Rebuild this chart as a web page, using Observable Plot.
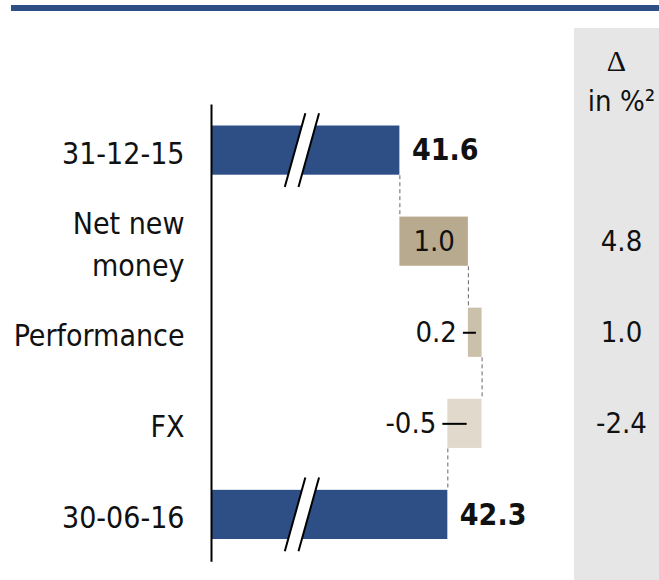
<!DOCTYPE html>
<html>
<head>
<meta charset="utf-8">
<script src="https://cdn.jsdelivr.net/npm/d3@7"></script>
<script src="https://cdn.jsdelivr.net/npm/@observablehq/plot@0.6"></script>
<style>
  html, body { margin: 0; padding: 0; background: white; }
  #wrap { position: relative; width: 659px; height: 580px; overflow: hidden; font-family: "DejaVu Sans Condensed", "DejaVu Sans", sans-serif; }
  #rule { position: absolute; left: 11px; top: 5px; width: 648px; height: 6px; background: #2d4f86; }
  #panel { position: absolute; left: 574px; top: 28px; width: 85px; height: 552px; background: #e6e6e6; }
  #hdr1 { position: absolute; left: 574px; width: 85px; top: 44px; text-align: center; font-family: "Liberation Serif", serif; font-size: 30px; color: #111; box-sizing: border-box; padding-right: 0px; }
  #hdr2 { position: absolute; left: 574px; width: 85px; top: 84px; text-align: center; font-size: 29px; color: #111; padding-left: 10px; box-sizing: border-box; white-space: nowrap; }
  #chart { position: absolute; left: 0; top: 0; }
</style>
</head>
<body>
<div id="wrap">
  <div id="rule"></div>
  <div id="panel"></div>
  <div id="hdr1">Δ</div>
  <div id="hdr2">in %²</div>
  <div id="chart"></div>
</div>
<script>
// ---- data ----
const categories = ["31-12-15", "Net new\nmoney", "Performance", "FX", "30-06-16"];
const values = [41.6, 1.0, 0.2, -0.5, 42.3];
const kinds = ["total", "change", "change", "change", "total"];
const deltaPct = [null, 4.8, 1.0, -2.4, null];
const valueLabels = ["41.6", "1.0", "0.2", "-0.5", "42.3"];
const deltaLabels = ["", "4.8", "1.0", "-2.4", ""];
const labelPlacement = ["outside", "inside", "tick", "tick", "outside"];
const barColors = ["#2d4f86", "#b8aa8f", "#cbc0aa", "#e1d9cc", "#2d4f86"];

// axis (broken) range
const axisStart = 38.85;
const axisEnd = 45.39;
const breakAt = 40.07; // where the axis-break marks sit

// ---- derived waterfall table ----
let cum = 0;
const rows = categories.map((c, i) => {
  let start, end;
  if (kinds[i] === "total") { start = axisStart; end = values[i]; cum = values[i]; }
  else { start = cum; end = cum + values[i]; cum = end; }
  return {i, cat: c, v: values[i], start, end, lo: Math.min(start, end), hi: Math.max(start, end),
          cum, color: barColors[i], label: valueLabels[i], place: labelPlacement[i],
          delta: deltaLabels[i], kind: kinds[i]};
});
const half = 0.27;
const connectors = rows.slice(0, -1).map(r => ({x: r.cum, y1: r.i + half, y2: r.i + 1 - half}));
const totals = rows.filter(r => r.kind === "total");
const breaks = totals.flatMap(r => [
  {x1: breakAt - 0.15, x2: breakAt + 0.15, y1: r.i + 0.40, y2: r.i - 0.41},
  {x1: breakAt + 0.05, x2: breakAt + 0.35, y1: r.i + 0.40, y2: r.i - 0.41}
]);
const breakFill = totals.map(r => ({x1: breakAt - 0.05, x2: breakAt + 0.25, y1: r.i + 0.40, y2: r.i - 0.41}));
const tickRows = rows.filter(r => r.place === "tick");

const fontMain = "DejaVu Sans Condensed, DejaVu Sans, sans-serif";

const chart = Plot.plot({
  width: 659,
  height: 580,
  marginLeft: 211,
  marginRight: 0,
  marginTop: 0,
  marginBottom: 0,
  style: {background: "transparent", fontFamily: fontMain, color: "#111"},
  x: {domain: [axisStart, axisEnd], axis: null},
  y: {domain: [-1.648, 4.72], reverse: true, axis: null},
  marks: [
    Plot.rectX(rows, {x1: "start", x2: "end", y1: d => d.i - half, y2: d => d.i + half, fill: "color"}),
    Plot.link(connectors, {x1: "x", x2: "x", y1: "y1", y2: "y2", stroke: "#666", strokeWidth: 1, strokeDasharray: "4,3"}),
    Plot.link(breakFill, {x1: "x1", x2: "x2", y1: "y1", y2: "y2", stroke: "white", strokeWidth: 13}),
    Plot.link(breaks, {x1: "x1", x2: "x2", y1: "y1", y2: "y2", stroke: "black", strokeWidth: 2}),
    Plot.ruleX([axisStart], {y1: -0.5, y2: 4.52, stroke: "black", strokeWidth: 2}),
    Plot.text(rows, {x: () => axisStart, y: "i", text: "cat", textAnchor: "end", dx: -27, fontSize: 30, lineHeight: 1.4, fill: "#111"}),
    Plot.text(rows.filter(r => r.place === "outside"), {x: "end", y: "i", text: "label", textAnchor: "start", dx: 12, fontSize: 30, fontWeight: "bold", fill: "#111"}),
    Plot.text(rows.filter(r => r.place === "inside"), {x: d => (d.start + d.end) / 2, y: "i", text: "label", textAnchor: "middle", fontSize: 29, fill: "#111"}),
    Plot.link(tickRows, {x1: d => d.lo - 0.08, x2: d => d.lo + 0.55 * Math.abs(d.v), y1: "i", y2: "i", stroke: "black", strokeWidth: 2}),
    Plot.text(tickRows, {x: d => d.lo - 0.08, y: "i", text: "label", textAnchor: "end", dx: -6, fontSize: 29, fill: "#111"}),
    Plot.text(rows, {frameAnchor: "right", y: "i", text: "delta", textAnchor: "middle", dx: -38, fontSize: 29, fill: "#111"})
  ]
});
document.getElementById("chart").appendChild(chart);
</script>
</body>
</html>
